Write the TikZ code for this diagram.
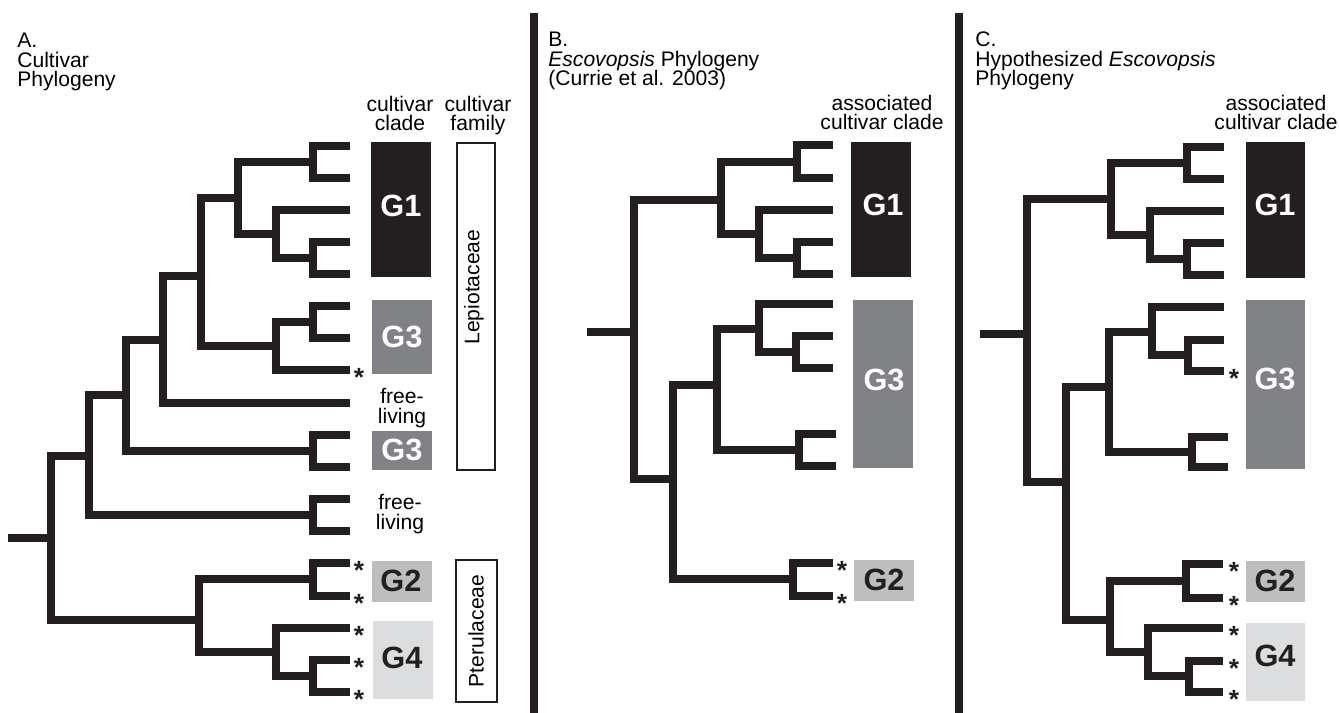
\documentclass[tikz,border=0pt]{standalone}
\usepackage{fontspec}
\setmainfont{Liberation Sans}

\definecolor{treeink}{HTML}{231F20}
\definecolor{cladeone}{HTML}{231F20}
\definecolor{cladethree}{HTML}{808285}
\definecolor{cladetwo}{HTML}{BCBEC0}
\definecolor{cladefour}{HTML}{DCDDDE}

\begin{document}
\begin{tikzpicture}[x=0.02cm, y=-0.02cm,
    branch/.style={draw=treeink, line width=4pt, to path={|- (\tikztotarget)}},
    stem/.style={draw=treeink, line width=4pt},
    txt/.style={inner sep=0, font=\fontsize{12}{11.3}\selectfont},
    heading/.style={txt, anchor=base west, align=left},
    colhead/.style={txt, anchor=base, align=center},
    glabel/.style={inner sep=0, font=\fontsize{17.5}{17.5}\selectfont\bfseries},
    sig/.style={inner sep=0, anchor=base, yshift=-8.6pt, font=\fontsize{15}{15}\selectfont\bfseries, text=treeink},
    famtext/.style={txt, rotate=90},
    divider/.style={draw=treeink, line width=4.4pt}]

  \useasboundingbox (0,0) rectangle (1339,713);

  %% A. cultivar phylogeny
  \node[heading] (atitle) at (17,87) {A.\\Cultivar\\Phylogeny};
  \node[colhead] (aclade) at (400,131) {cultivar\\clade};
  \node[colhead] (afamily) at (478,131) {cultivar\\family};

  % leaves
  \coordinate (a1) at (350,146);  \coordinate (a2) at (350,178);
  \coordinate (a3) at (350,210);  \coordinate (a4) at (350,242);
  \coordinate (a5) at (350,274);  \coordinate (a6) at (350,306);
  \coordinate (a7) at (350,338);  \coordinate (a8) at (350,370);
  \coordinate (a9) at (350,403);  \coordinate (a10) at (350,435);
  \coordinate (a11) at (350,467); \coordinate (a12) at (350,499);
  \coordinate (a13) at (350,531); \coordinate (a14) at (350,563);
  \coordinate (a15) at (350,596); \coordinate (a16) at (350,628);
  \coordinate (a17) at (350,660); \coordinate (a18) at (350,692);

  % internal nodes
  \coordinate (ac12) at (313,162);
  \coordinate (ac45) at (313,258);
  \coordinate (ac345) at (276,234);
  \coordinate (acg1) at (238,198);
  \coordinate (ac67) at (313,322);
  \coordinate (ac678) at (276,346);
  \coordinate (acg13) at (201,276);
  \coordinate (ac9) at (163,340);
  \coordinate (ac1011) at (313,451);
  \coordinate (ac10) at (126,395);
  \coordinate (ac1213) at (313,515);
  \coordinate (acfl) at (89,456);
  \coordinate (ac1415) at (313,579);
  \coordinate (ac1718) at (313,676);
  \coordinate (acg4) at (276,652);
  \coordinate (acg24) at (199,620);
  \coordinate (aroot) at (51,538);
  \coordinate (astem) at (8,538);

  \path[every edge/.style=branch]
  (ac12) edge (a1) edge (a2)
  (ac45) edge (a4) edge (a5)
  (ac345) edge (a3) edge (ac45)
  (acg1) edge (ac12) edge (ac345)
  (ac67) edge (a6) edge (a7)
  (ac678) edge (ac67) edge (a8)
  (acg13) edge (acg1) edge (ac678)
  (ac9) edge (acg13) edge (a9)
  (ac1011) edge (a10) edge (a11)
  (ac10) edge (ac9) edge (ac1011)
  (ac1213) edge (a12) edge (a13)
  (acfl) edge (ac10) edge (ac1213)
  (ac1415) edge (a14) edge (a15)
  (ac1718) edge (a17) edge (a18)
  (acg4) edge (a16) edge (ac1718)
  (acg24) edge (ac1415) edge (acg4)
  (aroot) edge (acfl) edge (acg24);
  \draw[stem] (astem) -- (aroot);

  \node[sig] (sa8) at (359,371) {*};
  \node[sig] (sa14) at (359,564) {*};
  \node[sig] (sa15) at (359,597) {*};
  \node[sig] (sa16) at (359,629) {*};
  \node[sig] (sa17) at (359,661) {*};
  \node[sig] (sa18) at (359,693) {*};

  % clade boxes
  \fill[cladeone] (371,142) rectangle (431,277);
  \fill[cladethree] (372,300) rectangle (432,374);
  \fill[cladethree] (372,431) rectangle (432,470);
  \fill[cladetwo] (372,561) rectangle (432,602);
  \fill[cladefour] (373,621) rectangle (433,699);
  \node[glabel, text=white] (ag1) at (401,206) {G1};
  \node[glabel, text=white] (ag3) at (402,337) {G3};
  \node[glabel, text=white] (ag3b) at (402,450) {G3};
  \node[glabel, text=treeink] (ag2) at (401,581) {G2};
  \node[glabel, text=treeink] (ag4) at (402,658) {G4};
  \node[colhead] (afree) at (402,423) {free-\\living};
  \node[colhead] (afreeb) at (400,529) {free-\\living};

  % families
  \draw[treeink, line width=0.9pt] (457,143) rectangle (495,470);
  \node[famtext] (lepio) at (474,287) {Lepiotaceae};
  \draw[treeink, line width=0.9pt] (456,560) rectangle (497,702);
  \node[famtext] (pterul) at (476,631) {Pterulaceae};

  \draw[divider] (534,13) -- (534,713);

  %% B. Escovopsis phylogeny
  \node[heading] (btitle) at (548,86) {B.\\\textit{Escovopsis} Phylogeny\\(Currie et al. 2003)};
  \node[colhead] (bclade) at (882,130) {associated\\cultivar clade};

  \coordinate (b1) at (833,145);  \coordinate (b2) at (833,178);
  \coordinate (b3) at (833,210);  \coordinate (b4) at (833,242);
  \coordinate (b5) at (833,274);  \coordinate (b6) at (833,304);
  \coordinate (b7) at (833,336);  \coordinate (b8) at (833,368);
  \coordinate (b9) at (836,434);  \coordinate (b10) at (836,466);
  \coordinate (b11) at (833,563); \coordinate (b12) at (833,596);

  \coordinate (bc12) at (797,162);
  \coordinate (bc45) at (797,258);
  \coordinate (bc345) at (759,234);
  \coordinate (bcg1) at (721,200);
  \coordinate (bc78) at (796,352);
  \coordinate (bc678) at (759,329);
  \coordinate (bc910) at (799,450);
  \coordinate (bcg3) at (717,385);
  \coordinate (bc1112) at (793,579);
  \coordinate (bcn) at (673,479);
  \coordinate (broot) at (634,332);
  \coordinate (bstem) at (587,332);

  \path[every edge/.style=branch]
  (bc12) edge (b1) edge (b2)
  (bc45) edge (b4) edge (b5)
  (bc345) edge (b3) edge (bc45)
  (bcg1) edge (bc12) edge (bc345)
  (bc78) edge (b7) edge (b8)
  (bc678) edge (b6) edge (bc78)
  (bc910) edge (b9) edge (b10)
  (bcg3) edge (bc678) edge (bc910)
  (bc1112) edge (b11) edge (b12)
  (bcn) edge (bcg3) edge (bc1112)
  (broot) edge (bcg1) edge (bcn);
  \draw[stem] (bstem) -- (broot);

  \node[sig] (sb11) at (842,564) {*};
  \node[sig] (sb12) at (842,597) {*};

  \fill[cladeone] (851,142) rectangle (911,277);
  \fill[cladethree] (853,300) rectangle (913,468);
  \fill[cladetwo] (854,560) rectangle (914,601);
  \node[glabel, text=white] (bg1) at (883,205) {G1};
  \node[glabel, text=white] (bg3) at (884,380) {G3};
  \node[glabel, text=treeink] (bg2) at (884,580) {G2};

  \draw[divider] (959,13) -- (959,713);

  %% C. hypothesized Escovopsis phylogeny
  \node[heading] (ctitle) at (975,86) {C.\\Hypothesized \textit{Escovopsis}\\Phylogeny};
  \node[colhead] (cclade) at (1276,130) {associated\\cultivar clade};

  \coordinate (c1) at (1224,147);  \coordinate (c2) at (1224,179);
  \coordinate (c3) at (1224,211);  \coordinate (c4) at (1224,243);
  \coordinate (c5) at (1224,275);  \coordinate (c6) at (1224,307);
  \coordinate (c7) at (1224,340);  \coordinate (c8) at (1224,371);
  \coordinate (c9) at (1228,437);  \coordinate (c10) at (1228,467);
  \coordinate (c11) at (1223,564); \coordinate (c12) at (1223,598);
  \coordinate (c13) at (1223,628); \coordinate (c14) at (1223,661);
  \coordinate (c15) at (1223,692);

  \coordinate (cc12) at (1187,163);
  \coordinate (cc45) at (1187,259);
  \coordinate (cc345) at (1150,235);
  \coordinate (ccg1) at (1111,199);
  \coordinate (cc78) at (1188,355);
  \coordinate (cc678) at (1152,332);
  \coordinate (cc910) at (1192,452);
  \coordinate (ccg3) at (1109,387);
  \coordinate (cc1112) at (1186,581);
  \coordinate (cc1415) at (1189,676);
  \coordinate (ccg4) at (1148,652);
  \coordinate (ccg24) at (1110,620);
  \coordinate (ccn) at (1066,482);
  \coordinate (croot) at (1027,334);
  \coordinate (cstem) at (980,334);

  \path[every edge/.style=branch]
  (cc12) edge (c1) edge (c2)
  (cc45) edge (c4) edge (c5)
  (cc345) edge (c3) edge (cc45)
  (ccg1) edge (cc12) edge (cc345)
  (cc78) edge (c7) edge (c8)
  (cc678) edge (c6) edge (cc78)
  (cc910) edge (c9) edge (c10)
  (ccg3) edge (cc678) edge (cc910)
  (cc1112) edge (c11) edge (c12)
  (cc1415) edge (c14) edge (c15)
  (ccg4) edge (c13) edge (cc1415)
  (ccg24) edge (cc1112) edge (ccg4)
  (ccn) edge (ccg3) edge (ccg24)
  (croot) edge (ccg1) edge (ccn);
  \draw[stem] (cstem) -- (croot);

  \node[sig] (sc8) at (1234,372) {*};
  \node[sig] (sc11) at (1234,565) {*};
  \node[sig] (sc12) at (1234,599) {*};
  \node[sig] (sc13) at (1234,629) {*};
  \node[sig] (sc14) at (1234,662) {*};
  \node[sig] (sc15) at (1234,693) {*};

  \fill[cladeone] (1246,142) rectangle (1305,278);
  \fill[cladethree] (1246,300) rectangle (1305,469);
  \fill[cladetwo] (1246,561) rectangle (1305,602);
  \fill[cladefour] (1246,623) rectangle (1305,701);
  \node[glabel, text=white] (cg1) at (1275,205) {G1};
  \node[glabel, text=white] (cg3) at (1275,379) {G3};
  \node[glabel, text=treeink] (cg2) at (1275,581) {G2};
  \node[glabel, text=treeink] (cg4) at (1275,656) {G4};

\end{tikzpicture}
\end{document}
